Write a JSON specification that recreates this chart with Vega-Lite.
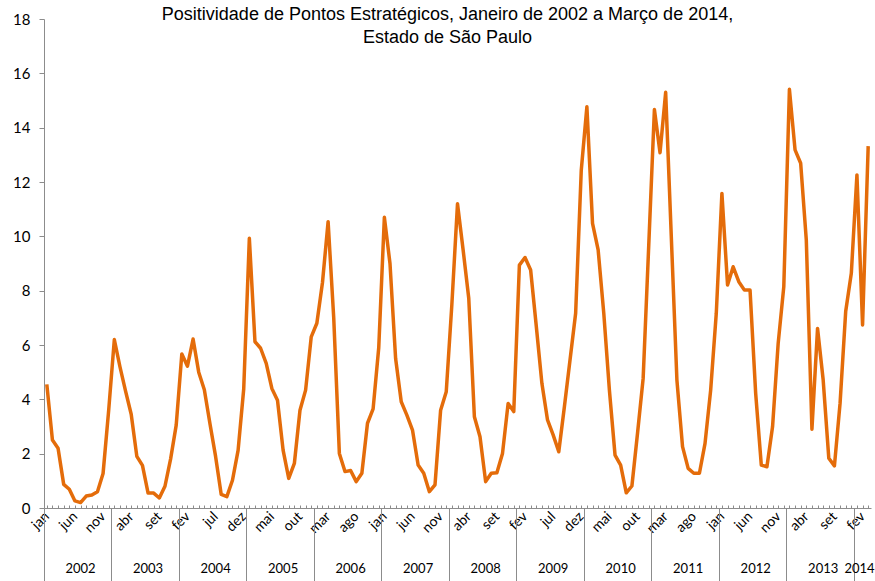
{
  "$schema": "https://vega.github.io/schema/vega-lite/v6.json",
  "width": 827,
  "height": 489,
  "autosize": {"type": "none"},
  "padding": {"left": 44, "top": 19, "right": 4, "bottom": 73},
  "background": "white",
  "title": {
    "text": ["Positividade de Pontos Estratégicos, Janeiro de 2002 a Março de 2014,", "Estado de São Paulo"],
    "font": "Liberation Sans",
    "fontSize": 18,
    "fontWeight": "normal",
    "color": "#000000",
    "lineHeight": 23,
    "anchor": "middle",
    "offset": -35,
    "dx": -10
  },
  "config": {"view": {"stroke": null}, "axis": {"grid": false}},
  "data": {
    "values": [
      {"mes": "2002-01", "v": 4.55}, {"mes": "2002-02", "v": 2.5}, {"mes": "2002-03", "v": 2.2}, {"mes": "2002-04", "v": 0.87}, {"mes": "2002-05", "v": 0.69}, {"mes": "2002-06", "v": 0.26}, {"mes": "2002-07", "v": 0.2}, {"mes": "2002-08", "v": 0.44}, {"mes": "2002-09", "v": 0.48}, {"mes": "2002-10", "v": 0.6}, {"mes": "2002-11", "v": 1.27}, {"mes": "2002-12", "v": 3.6},
      {"mes": "2003-01", "v": 6.2}, {"mes": "2003-02", "v": 5.2}, {"mes": "2003-03", "v": 4.3}, {"mes": "2003-04", "v": 3.45}, {"mes": "2003-05", "v": 1.9}, {"mes": "2003-06", "v": 1.57}, {"mes": "2003-07", "v": 0.55}, {"mes": "2003-08", "v": 0.55}, {"mes": "2003-09", "v": 0.37}, {"mes": "2003-10", "v": 0.8}, {"mes": "2003-11", "v": 1.8}, {"mes": "2003-12", "v": 3.05},
      {"mes": "2004-01", "v": 5.67}, {"mes": "2004-02", "v": 5.22}, {"mes": "2004-03", "v": 6.22}, {"mes": "2004-04", "v": 5.0}, {"mes": "2004-05", "v": 4.35}, {"mes": "2004-06", "v": 3.1}, {"mes": "2004-07", "v": 1.9}, {"mes": "2004-08", "v": 0.5}, {"mes": "2004-09", "v": 0.42}, {"mes": "2004-10", "v": 1.02}, {"mes": "2004-11", "v": 2.12}, {"mes": "2004-12", "v": 4.38},
      {"mes": "2005-01", "v": 9.93}, {"mes": "2005-02", "v": 6.12}, {"mes": "2005-03", "v": 5.88}, {"mes": "2005-04", "v": 5.32}, {"mes": "2005-05", "v": 4.4}, {"mes": "2005-06", "v": 3.97}, {"mes": "2005-07", "v": 2.13}, {"mes": "2005-08", "v": 1.09}, {"mes": "2005-09", "v": 1.64}, {"mes": "2005-10", "v": 3.6}, {"mes": "2005-11", "v": 4.34}, {"mes": "2005-12", "v": 6.3},
      {"mes": "2006-01", "v": 6.8}, {"mes": "2006-02", "v": 8.3}, {"mes": "2006-03", "v": 10.54}, {"mes": "2006-04", "v": 7.0}, {"mes": "2006-05", "v": 2.01}, {"mes": "2006-06", "v": 1.34}, {"mes": "2006-07", "v": 1.38}, {"mes": "2006-08", "v": 0.97}, {"mes": "2006-09", "v": 1.28}, {"mes": "2006-10", "v": 3.12}, {"mes": "2006-11", "v": 3.65}, {"mes": "2006-12", "v": 5.9},
      {"mes": "2007-01", "v": 10.7}, {"mes": "2007-02", "v": 9.0}, {"mes": "2007-03", "v": 5.5}, {"mes": "2007-04", "v": 3.91}, {"mes": "2007-05", "v": 3.42}, {"mes": "2007-06", "v": 2.87}, {"mes": "2007-07", "v": 1.58}, {"mes": "2007-08", "v": 1.28}, {"mes": "2007-09", "v": 0.6}, {"mes": "2007-10", "v": 0.85}, {"mes": "2007-11", "v": 3.6}, {"mes": "2007-12", "v": 4.28},
      {"mes": "2008-01", "v": 7.5}, {"mes": "2008-02", "v": 11.2}, {"mes": "2008-03", "v": 9.5}, {"mes": "2008-04", "v": 7.72}, {"mes": "2008-05", "v": 3.36}, {"mes": "2008-06", "v": 2.62}, {"mes": "2008-07", "v": 0.97}, {"mes": "2008-08", "v": 1.28}, {"mes": "2008-09", "v": 1.3}, {"mes": "2008-10", "v": 2.01}, {"mes": "2008-11", "v": 3.85}, {"mes": "2008-12", "v": 3.55},
      {"mes": "2009-01", "v": 8.94}, {"mes": "2009-02", "v": 9.22}, {"mes": "2009-03", "v": 8.76}, {"mes": "2009-04", "v": 6.7}, {"mes": "2009-05", "v": 4.59}, {"mes": "2009-06", "v": 3.24}, {"mes": "2009-07", "v": 2.69}, {"mes": "2009-08", "v": 2.07}, {"mes": "2009-09", "v": 3.73}, {"mes": "2009-10", "v": 5.45}, {"mes": "2009-11", "v": 7.17}, {"mes": "2009-12", "v": 12.44},
      {"mes": "2010-01", "v": 14.77}, {"mes": "2010-02", "v": 10.48}, {"mes": "2010-03", "v": 9.5}, {"mes": "2010-04", "v": 7.17}, {"mes": "2010-05", "v": 4.34}, {"mes": "2010-06", "v": 1.95}, {"mes": "2010-07", "v": 1.58}, {"mes": "2010-08", "v": 0.56}, {"mes": "2010-09", "v": 0.81}, {"mes": "2010-10", "v": 2.75}, {"mes": "2010-11", "v": 4.77}, {"mes": "2010-12", "v": 9.7},
      {"mes": "2011-01", "v": 14.67}, {"mes": "2011-02", "v": 13.08}, {"mes": "2011-03", "v": 15.3}, {"mes": "2011-04", "v": 10.0}, {"mes": "2011-05", "v": 4.71}, {"mes": "2011-06", "v": 2.26}, {"mes": "2011-07", "v": 1.46}, {"mes": "2011-08", "v": 1.28}, {"mes": "2011-09", "v": 1.28}, {"mes": "2011-10", "v": 2.38}, {"mes": "2011-11", "v": 4.34}, {"mes": "2011-12", "v": 7.17},
      {"mes": "2012-01", "v": 11.58}, {"mes": "2012-02", "v": 8.21}, {"mes": "2012-03", "v": 8.88}, {"mes": "2012-04", "v": 8.33}, {"mes": "2012-05", "v": 8.02}, {"mes": "2012-06", "v": 8.02}, {"mes": "2012-07", "v": 4.22}, {"mes": "2012-08", "v": 1.58}, {"mes": "2012-09", "v": 1.52}, {"mes": "2012-10", "v": 2.99}, {"mes": "2012-11", "v": 6.06}, {"mes": "2012-12", "v": 8.15},
      {"mes": "2013-01", "v": 15.41}, {"mes": "2013-02", "v": 13.18}, {"mes": "2013-03", "v": 12.69}, {"mes": "2013-04", "v": 9.86}, {"mes": "2013-05", "v": 2.9}, {"mes": "2013-06", "v": 6.61}, {"mes": "2013-07", "v": 4.71}, {"mes": "2013-08", "v": 1.83}, {"mes": "2013-09", "v": 1.55}, {"mes": "2013-10", "v": 3.85}, {"mes": "2013-11", "v": 7.23}, {"mes": "2013-12", "v": 8.64},
      {"mes": "2014-01", "v": 12.26}, {"mes": "2014-02", "v": 6.74}, {"mes": "2014-03", "v": 13.32}
    ]
  },
  "layer": [
    {
      "mark": {"type": "line", "color": "#E46C0A", "strokeWidth": 3.5, "strokeJoin": "round"},
      "encoding": {
        "x": {
          "field": "mes",
          "type": "ordinal",
          "sort": null,
          "scale": {"type": "point", "padding": 0.5},
          "axis": {
            "orient": "bottom",
            "title": null,
            "domainColor": "#8C8C8C",
            "tickColor": "#8C8C8C",
            "tickSize": -3,
            "labelAngle": -45,
            "labelAlign": "right",
            "labelBaseline": "middle",
            "labelPadding": 9,
            "labelFont": "Lato",
            "labelFontSize": 14,
            "labelColor": "#000000",
            "labelOverlap": false,
            "labelExpr": "((toNumber(slice(datum.value,0,4))-2002)*12+toNumber(slice(datum.value,5,7))-1) % 5 == 0 ? ['jan','fev','mar','abr','mai','jun','jul','ago','set','out','nov','dez'][toNumber(slice(datum.value,5,7))-1] : ''"
          }
        },
        "y": {
          "field": "v",
          "type": "quantitative",
          "scale": {"domain": [0, 18], "nice": false},
          "axis": {
            "title": null,
            "values": [0, 2, 4, 6, 8, 10, 12, 14, 16, 18],
            "domainColor": "#8C8C8C",
            "tickColor": "#8C8C8C",
            "tickSize": 5,
            "labelPadding": 9,
            "labelFont": "Lato",
            "labelFontSize": 15,
            "labelColor": "#000000",
            "grid": false
          }
        }
      }
    },
    {
      "mark": {"type": "tick", "opacity": 0},
      "encoding": {
        "x": {
          "field": "mes",
          "type": "ordinal",
          "sort": null,
          "scale": {"type": "band", "paddingInner": 0, "paddingOuter": 0},
          "axis": {
            "orient": "bottom",
            "title": null,
            "values": ["2002-01", "2003-01", "2004-01", "2005-01", "2006-01", "2007-01", "2008-01", "2009-01", "2010-01", "2011-01", "2012-01", "2013-01", "2014-01"],
            "bandPosition": 0,
            "tickSize": 73,
            "tickColor": "#8C8C8C",
            "tickWidth": 1,
            "labels": false,
            "domain": false
          }
        }
      }
    },
    {
      "mark": {"type": "tick", "opacity": 0},
      "encoding": {
        "x": {
          "field": "mes",
          "type": "ordinal",
          "sort": null,
          "scale": {"type": "band", "paddingInner": 0, "paddingOuter": 0},
          "axis": {
            "orient": "bottom",
            "title": null,
            "values": ["2002-07", "2003-07", "2004-07", "2005-07", "2006-07", "2007-07", "2008-07", "2009-07", "2010-07", "2011-07", "2012-07", "2013-07", "2014-02"],
            "bandPosition": 0,
            "ticks": false,
            "domain": false,
            "labelAngle": 0,
            "labelAlign": "center",
            "labelBaseline": "middle",
            "labelPadding": 60,
            "labelFont": "Lato",
            "labelFontSize": 13,
            "labelColor": "#000000",
            "labelOverlap": false,
            "labelBound": false,
            "labelOffset": {"condition": {"test": "datum.value == '2014-02'", "value": -3}, "value": 0},
            "labelExpr": "slice(datum.value,0,4)"
          }
        }
      }
    }
  ],
  "resolve": {"scale": {"x": "independent"}, "axis": {"x": "independent"}}
}
